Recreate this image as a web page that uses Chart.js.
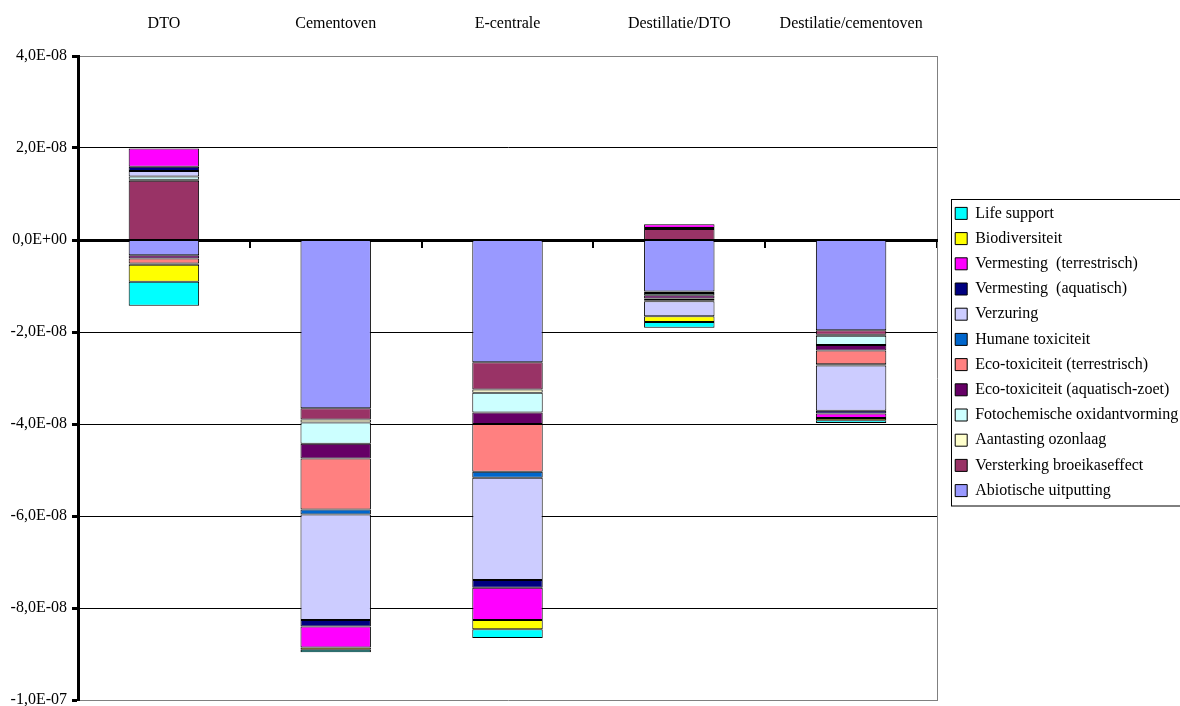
<!DOCTYPE html>
<html>
<head>
<meta charset="utf-8">
<script src="https://cdn.jsdelivr.net/npm/chart.js@4"></script>
<style>
  html, body { margin: 0; padding: 0; background: #fff; overflow: hidden; }
  #wrap { width: 1200px; height: 706px; }
</style>
</head>
<body>
<div id="wrap"><canvas id="chart" width="1200" height="706"></canvas></div>
<script>
// categories and series
const categories = ['DTO', 'Cementoven', 'E-centrale', 'Destillatie/DTO', 'Destilatie/cementoven'];

const abiotisch   = [-0.33e-8, -3.66e-8, -2.66e-8, -1.12e-8, -1.96e-8];
const broeikas    = [ 1.29e-8, -0.24e-8, -0.59e-8,  0.24e-8, -0.10e-8];
const ozonlaag    = [ 0.02e-8, -0.07e-8, -0.07e-8, -0.03e-8, -0.02e-8];
const fotochem    = [ 0.07e-8, -0.46e-8, -0.43e-8, -0.05e-8, -0.20e-8];
const ecoAquat    = [-0.07e-8, -0.32e-8, -0.25e-8, -0.07e-8, -0.12e-8];
const ecoTerr     = [-0.11e-8, -1.11e-8, -1.04e-8, -0.04e-8, -0.30e-8];
const humaan      = [-0.03e-8, -0.11e-8, -0.13e-8, -0.02e-8, -0.03e-8];
const verzuring   = [ 0.12e-8, -2.29e-8, -2.22e-8, -0.33e-8, -0.98e-8];
const vermAquat   = [ 0.09e-8, -0.14e-8, -0.17e-8,  0.02e-8, -0.06e-8];
const vermTerr    = [ 0.40e-8, -0.46e-8, -0.70e-8,  0.08e-8, -0.10e-8];
const biodiv      = [-0.37e-8, -0.05e-8, -0.20e-8, -0.12e-8, -0.05e-8];
const lifeSupport = [-0.52e-8, -0.05e-8, -0.19e-8, -0.13e-8, -0.06e-8];

const yMin = -1e-7, yMax = 4e-8, yStep = 2e-8;

// Excel style number format: 4,0E-08
function fmtSci(v) {
  if (Math.abs(v) < 1e-20) return '0,0E+00';
  const parts = v.toExponential(1).split('e');
  const exp = parseInt(parts[1], 10);
  return parts[0].replace('.', ',') + 'E' + (exp < 0 ? '-' : '+') + String(Math.abs(exp)).padStart(2, '0');
}

function ds(label, data, color) {
  return {
    label: label,
    data: data,
    backgroundColor: color,
    borderColor: '#000',
    borderWidth: 1,
    borderSkipped: false,
    xAxisID: 'x',
    yAxisID: 'y'
  };
}

Chart.defaults.font.family = '"Liberation Serif", "Times New Roman", serif';
Chart.defaults.font.size = 16;
Chart.defaults.color = '#000';

// legend is wider than the window in the original, so fix its width
const legendWidth = 254;
const legendSize = {
  id: 'legendSize',
  beforeLayout(chart) {
    const lg = chart.legend;
    if (lg && !lg._fixedWidth) {
      const fit = lg.fit;
      lg.fit = function () { fit.call(this); this.width = legendWidth; };
      lg._fixedWidth = true;
    }
  }
};

// box around the legend items
const legendFrame = {
  id: 'legendFrame',
  afterDraw(chart) {
    const boxes = chart.legend && chart.legend.legendHitBoxes;
    if (!boxes || !boxes.length) return;
    let l = Infinity, t = Infinity, r = -Infinity, b = -Infinity;
    boxes.forEach(h => {
      l = Math.min(l, h.left); t = Math.min(t, h.top);
      r = Math.max(r, h.left + h.width); b = Math.max(b, h.top + h.height);
    });
    const ctx = chart.ctx;
    ctx.save();
    ctx.strokeStyle = '#000';
    ctx.lineWidth = 1;
    const x0 = Math.round(l - 4) + 0.5, y0 = Math.round(t - 6) + 0.5;
    ctx.strokeRect(x0, y0, Math.round(r + 6) - x0, Math.round(b + 7) - y0);
    ctx.restore();
  }
};

new Chart(document.getElementById('chart').getContext('2d'), {
  type: 'bar',
  data: {
    labels: categories,
    datasets: [
      ds('Abiotische uitputting', abiotisch, '#9999FF'),
      ds('Versterking broeikaseffect', broeikas, '#993366'),
      ds('Aantasting ozonlaag', ozonlaag, '#FFFFCC'),
      ds('Fotochemische oxidantvorming', fotochem, '#CCFFFF'),
      ds('Eco-toxiciteit (aquatisch-zoet)', ecoAquat, '#660066'),
      ds('Eco-toxiciteit (terrestrisch)', ecoTerr, '#FF8080'),
      ds('Humane toxiciteit', humaan, '#0066CC'),
      ds('Verzuring', verzuring, '#CCCCFF'),
      ds('Vermesting  (aquatisch)', vermAquat, '#000080'),
      ds('Vermesting  (terrestrisch)', vermTerr, '#FF00FF'),
      ds('Biodiversiteit', biodiv, '#FFFF00'),
      ds('Life support', lifeSupport, '#00FFFF')
    ]
  },
  options: {
    responsive: false,
    animation: false,
    barPercentage: 0.41,
    categoryPercentage: 1.0,
    layout: { padding: { left: 0, right: 0, top: 4, bottom: 6 } },
    plugins: {
      legend: {
        position: 'right',
        reverse: true,
        labels: {
          boxWidth: 12,
          boxHeight: 12,
          padding: 9.2,
          color: '#000'
        }
      },
      tooltip: { enabled: false }
    },
    scales: {
      x: {
        position: 'top',
        stacked: true,
        grid: { display: false },
        border: { display: true, color: '#808080', width: 1 },
        ticks: { maxRotation: 0, autoSkip: false, padding: 15 },
        afterFit(s) { s.height = 52; s.paddingLeft = 0; s.paddingRight = 0; }
      },
      y: {
        position: 'left',
        stacked: true,
        min: yMin,
        max: yMax,
        ticks: {
          stepSize: yStep,
          padding: 5,
          callback: v => fmtSci(v)
        },
        grid: {
          color: c => (c.tick && (Math.abs(c.tick.value - yMax) < 1e-12 || Math.abs(c.tick.value - yMin) < 1e-12)) ? '#808080' : '#000',
          lineWidth: 1,
          tickColor: '#000',
          tickWidth: 3,
          tickLength: 6
        },
        border: { display: true, color: '#000', width: 3 },
        afterFit(s) { s.width = 78; s.paddingTop = 0; s.paddingBottom = 0; }
      },
      yR: {
        position: 'right',
        min: yMin,
        max: yMax,
        ticks: { display: false },
        grid: { display: false, drawTicks: false },
        border: { display: true, color: '#808080', width: 1 },
        afterFit(s) { s.width = 9; s.paddingTop = 0; s.paddingBottom = 0; }
      },
      x2: {
        type: 'category',
        labels: categories,
        offset: true,
        position: { y: 0 },
        z: 1,
        ticks: { display: false },
        grid: {
          display: true,
          drawOnChartArea: false,
          offset: true,
          color: '#000',
          lineWidth: 2,
          tickLength: 6
        },
        border: { display: true, color: '#000', width: 3 }
      }
    }
  },
  plugins: [legendSize, legendFrame]
});
</script>
</body>
</html>
